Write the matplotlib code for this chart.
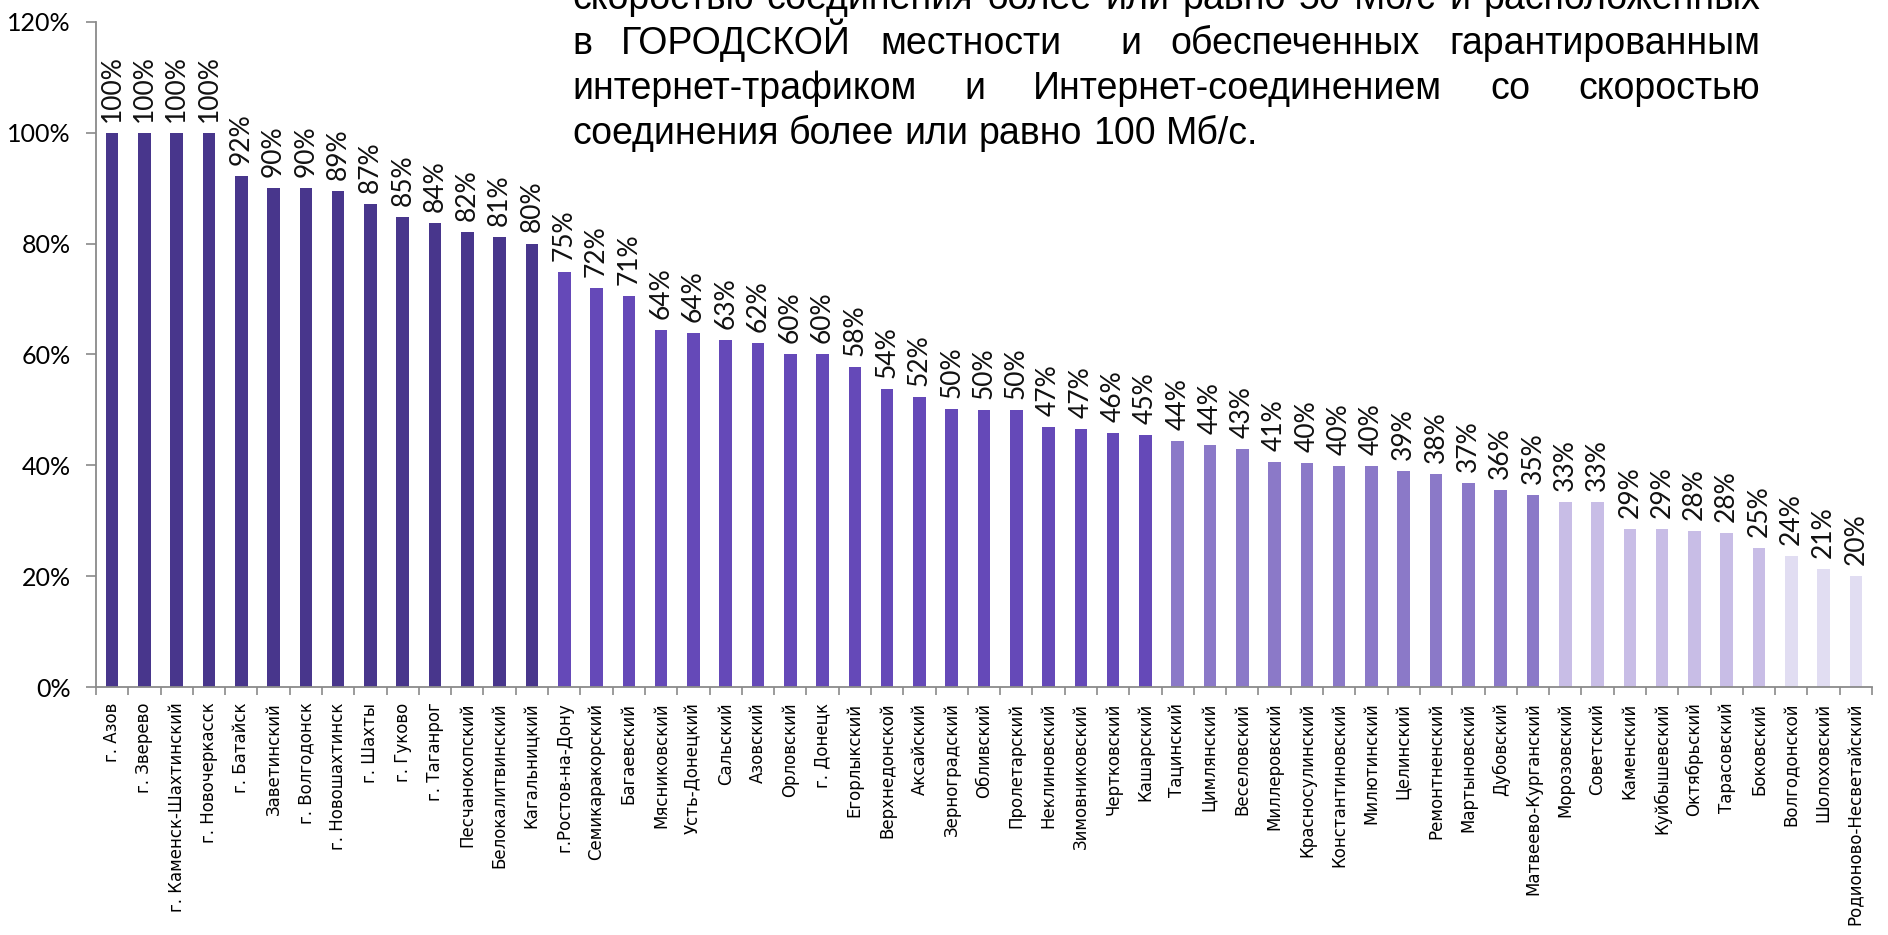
import numpy as np
import matplotlib
matplotlib.use("Agg")
import matplotlib.pyplot as plt
from matplotlib.ticker import FixedLocator, FuncFormatter

districts = [
    "г. Азов", "г. Зверево", "г. Каменск-Шахтинский", "г. Новочеркасск", "г. Батайск",
    "Заветинский", "г. Волгодонск", "г. Новошахтинск", "г. Шахты", "г. Гуково",
    "г. Таганрог", "Песчанокопский", "Белокалитвинский", "Кагальницкий", "г.Ростов-на-Дону",
    "Семикаракорский", "Багаевский", "Мясниковский", "Усть-Донецкий", "Сальский",
    "Азовский", "Орловский", "г. Донецк", "Егорлыкский", "Верхнедонской",
    "Аксайский", "Зерноградский", "Обливский", "Пролетарский", "Неклиновский",
    "Зимовниковский", "Чертковский", "Кашарский", "Тацинский", "Цимлянский",
    "Веселовский", "Миллеровский", "Красносулинский", "Константиновский", "Милютинский",
    "Целинский", "Ремонтненский", "Мартыновский", "Дубовский", "Матвеево-Курганский",
    "Морозовский", "Советский", "Каменский", "Куйбышевский", "Октябрьский",
    "Тарасовский", "Боковский", "Волгодонской", "Шолоховский", "Родионово-Несветайский",
]

# share of schools, %
share = [
    100.0, 100.0, 100.0, 100.0, 92.2,
    90.0, 90.0, 89.4, 87.2, 84.8,
    83.7, 82.0, 81.1, 80.0, 74.8,
    72.0, 70.6, 64.4, 63.8, 62.6,
    62.0, 60.1, 60.1, 57.7, 53.8,
    52.3, 50.1, 50.0, 50.0, 46.9,
    46.6, 45.8, 45.4, 44.4, 43.6,
    42.9, 40.6, 40.4, 39.9, 39.9,
    39.0, 38.4, 36.8, 35.6, 34.7,
    33.4, 33.4, 28.6, 28.6, 28.1,
    27.8, 25.1, 23.6, 21.3, 20.1,
]

yticks = [0, 20, 40, 60, 80, 100, 120]

heading = [
    "скоростью соединения более или равно 50 Мб/с и расположенных",
    "в ГОРОДСКОЙ местности  и обеспеченных гарантированным",
    "интернет-трафиком и Интернет-соединением со скоростью",
    "соединения более или равно 100 Мб/с.",
]


def bar_color(v):
    r = round(v)
    if r >= 80:
        return "#48368c"
    if r >= 45:
        return "#6549b8"
    if r >= 35:
        return "#8b79c8"
    if r >= 25:
        return "#c8bde6"
    return "#e1ddf2"


W, H = 1888, 935
fig = plt.figure(figsize=(W / 100, H / 100), dpi=100)
ax = fig.add_axes([96 / W, 1 - 687.3 / H, 1776 / W, (687.3 - 21.7) / H])

x = np.arange(len(districts))
ax.bar(x, share, width=0.39, color=[bar_color(v) for v in share], zorder=2)

for xi, v in zip(x, share):
    ax.annotate("{:.0f}%".format(v), (xi, v), xytext=(0, 8), textcoords="offset points",
                rotation=90, ha="center", va="bottom", fontsize=19, family="Lato",
                color="#111111")

ax.set_xlim(-0.5, len(districts) - 0.5)
ax.set_ylim(0, 120)
ax.set_yticks(yticks)
ax.yaxis.set_major_formatter(FuncFormatter(lambda v, p: "{:.0f}%".format(v)))
for lab in ax.get_yticklabels():
    lab.set_family("Lato")
    lab.set_fontsize(18)
ax.tick_params(axis="y", length=7, width=1.2, color="#8a8a8a", pad=11)

ax.set_xticks(x)
ax.set_xticklabels(districts, rotation=90, fontsize=12, family="DejaVu Sans")
ax.tick_params(axis="x", which="major", length=0, pad=11)
ax.xaxis.set_minor_locator(FixedLocator(np.arange(-0.5, len(districts) + 0.5, 1.0)))
ax.tick_params(axis="x", which="minor", length=6, width=1.2, color="#8a8a8a")

for s in ["top", "right"]:
    ax.spines[s].set_visible(False)
for s in ["left", "bottom"]:
    ax.spines[s].set_color("#8a8a8a")
    ax.spines[s].set_linewidth(1.3)

# justified text block above the bars
renderer = fig.canvas.get_renderer()
x0, x1 = 572, 1760
baselines = [9, 54, 99, 144]
fs = 27
for i, (line, yb) in enumerate(zip(heading, baselines)):
    words = line.split(" ")
    texts = [fig.text(0, 1 - yb / H, w, fontsize=fs, family="Liberation Sans",
                      va="baseline", ha="left") for w in words]
    widths = [t.get_window_extent(renderer).width if w else 0 for t, w in zip(texts, words)]
    if i == len(heading) - 1:
        space = fig.text(0, 0, "a a", fontsize=fs, family="Liberation Sans")
        a = fig.text(0, 0, "aa", fontsize=fs, family="Liberation Sans")
        gap = space.get_window_extent(renderer).width - a.get_window_extent(renderer).width
        space.remove()
        a.remove()
    else:
        gap = (x1 - x0 - sum(widths)) / (len(words) - 1)
    pos = x0
    for t, w in zip(texts, widths):
        t.set_x(pos / W)
        pos += w + gap

fig.savefig("out.png", dpi=100)
